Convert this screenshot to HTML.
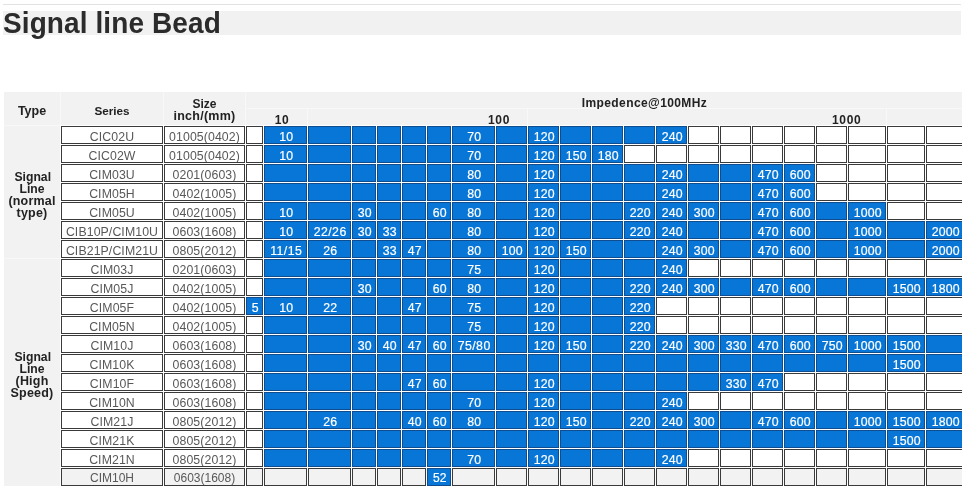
<!DOCTYPE html>
<html><head><meta charset="utf-8"><title>Signal line Bead</title>
<style>
html,body{margin:0;padding:0;background:#fff;}
body{width:967px;height:494px;position:relative;overflow:hidden;font-family:"Liberation Sans",sans-serif;}
.topline{position:absolute;left:3px;top:4px;width:958px;height:1px;background:#e2e2e2;}
.band{position:absolute;left:3px;top:11px;width:958px;height:24px;background:#f1f1f2;}
h1{position:absolute;left:3px;top:8px;margin:0;font-size:28px;line-height:32px;font-weight:bold;color:#2b2b2b;white-space:nowrap;letter-spacing:0.1px;transform:scaleY(1.05);transform-origin:0 25.5px;}
.tbl{position:absolute;left:4px;top:92px;width:958px;height:394px;overflow:hidden;}
.tbl div{position:absolute;box-sizing:border-box;white-space:nowrap;text-align:center;}
.h{background:#f2f2f2;color:#222;font-weight:bold;font-size:11.5px;}
.c{height:18px;border:1px solid #3a3a3a;background:#fff;color:#585858;font-size:12.3px;line-height:21px;letter-spacing:0.1px;overflow:hidden;}
.b{background:#0876d6;border-color:#0f4d8e;color:#fff;-webkit-text-stroke:0.2px #fff;}
.n{padding-left:1.4px;}
.sl{font-size:12.2px;letter-spacing:0;padding-left:1.5px;}
.g{background:#f2f2f3;line-height:19px;font-size:12px;letter-spacing:0;}
.g.b{background:#0876d6;}
</style></head><body>
<div class="topline"></div>
<div class="band"></div>
<h1>Signal line Bead</h1>
<div class="tbl">
<div class="hb" style="left:0px;top:0px;width:958px;height:33px;background:#f8f8f8;"></div>
<div class="hb" style="left:0px;top:0px;width:56px;height:394px;background:#f8f8f8;"></div>
<div class="h" style="left:0px;top:0px;width:56px;height:33px;font-size:12.5px;line-height:38.5px;">Type</div>
<div class="h" style="left:57px;top:0px;width:102px;height:33px;font-size:11.7px;line-height:37px;">Series</div>
<div class="h" style="left:160px;top:0px;width:81px;height:33px;line-height:12px;padding-top:6px;"><span style="font-size:12px">Size</span><br><span style="font-size:12.5px;letter-spacing:0.25px">inch/(mm)</span></div>
<div class="h" style="left:242px;top:0px;width:797px;height:16px;font-size:12px;letter-spacing:0.4px;line-height:22px;">Impedence@100MHz</div>
<div class="h" style="left:242px;top:17px;width:61px;height:16px;font-size:12px;letter-spacing:0.7px;line-height:22px;padding-left:11px;">10</div>
<div class="h" style="left:304px;top:17px;width:219px;height:16px;font-size:12px;letter-spacing:0.7px;line-height:22px;text-align:left;padding-left:180px;">100</div>
<div class="h" style="left:524px;top:17px;width:358px;height:16px;font-size:12px;letter-spacing:0.7px;line-height:22px;text-align:left;padding-left:304px;">1000</div>
<div class="h" style="left:883px;top:17px;width:156px;height:16px;"></div>
<div class="h" style="left:0px;top:34px;width:56px;height:132px;line-height:12px;font-size:12.5px;letter-spacing:0.2px;padding-top:45px;"><span class="sl">Signal<br>Line</span><br>(normal<br>type)</div>
<div class="h" style="left:0px;top:167px;width:56px;height:227px;line-height:12px;font-size:12.5px;letter-spacing:0.2px;padding-top:92px;"><span class="sl">Signal<br>Line</span><br>(High<br>Speed)</div>
<div class="c" style="left:57px;top:34px;width:102px">CIC02U</div><div class="c" style="left:160px;top:34px;width:81px">01005(0402)</div><div class="c n" style="left:242px;top:34px;width:17px"></div><div class="c n b" style="left:260px;top:34px;width:43px">10</div><div class="c n b" style="left:304px;top:34px;width:43px"></div><div class="c n b" style="left:348px;top:34px;width:24px"></div><div class="c n b" style="left:373px;top:34px;width:24px"></div><div class="c n b" style="left:398px;top:34px;width:24px"></div><div class="c n b" style="left:423px;top:34px;width:24px"></div><div class="c n b" style="left:448px;top:34px;width:43px">70</div><div class="c n b" style="left:492px;top:34px;width:31px"></div><div class="c n b" style="left:524px;top:34px;width:31px">120</div><div class="c n b" style="left:556px;top:34px;width:31px"></div><div class="c n b" style="left:588px;top:34px;width:31px"></div><div class="c n b" style="left:620px;top:34px;width:31px"></div><div class="c n b" style="left:652px;top:34px;width:31px">240</div><div class="c n" style="left:684px;top:34px;width:31px"></div><div class="c n" style="left:716px;top:34px;width:31px"></div><div class="c n" style="left:748px;top:34px;width:31px"></div><div class="c n" style="left:780px;top:34px;width:31px"></div><div class="c n" style="left:812px;top:34px;width:31px"></div><div class="c n" style="left:844px;top:34px;width:38px"></div><div class="c n" style="left:883px;top:34px;width:38px"></div><div class="c n" style="left:922px;top:34px;width:38px"></div>
<div class="c" style="left:57px;top:53px;width:102px">CIC02W</div><div class="c" style="left:160px;top:53px;width:81px">01005(0402)</div><div class="c n" style="left:242px;top:53px;width:17px"></div><div class="c n b" style="left:260px;top:53px;width:43px">10</div><div class="c n b" style="left:304px;top:53px;width:43px"></div><div class="c n b" style="left:348px;top:53px;width:24px"></div><div class="c n b" style="left:373px;top:53px;width:24px"></div><div class="c n b" style="left:398px;top:53px;width:24px"></div><div class="c n b" style="left:423px;top:53px;width:24px"></div><div class="c n b" style="left:448px;top:53px;width:43px">70</div><div class="c n b" style="left:492px;top:53px;width:31px"></div><div class="c n b" style="left:524px;top:53px;width:31px">120</div><div class="c n b" style="left:556px;top:53px;width:31px">150</div><div class="c n b" style="left:588px;top:53px;width:31px">180</div><div class="c n" style="left:620px;top:53px;width:31px"></div><div class="c n" style="left:652px;top:53px;width:31px"></div><div class="c n" style="left:684px;top:53px;width:31px"></div><div class="c n" style="left:716px;top:53px;width:31px"></div><div class="c n" style="left:748px;top:53px;width:31px"></div><div class="c n" style="left:780px;top:53px;width:31px"></div><div class="c n" style="left:812px;top:53px;width:31px"></div><div class="c n" style="left:844px;top:53px;width:38px"></div><div class="c n" style="left:883px;top:53px;width:38px"></div><div class="c n" style="left:922px;top:53px;width:38px"></div>
<div class="c" style="left:57px;top:72px;width:102px">CIM03U</div><div class="c" style="left:160px;top:72px;width:81px">0201(0603)</div><div class="c n" style="left:242px;top:72px;width:17px"></div><div class="c n b" style="left:260px;top:72px;width:43px"></div><div class="c n b" style="left:304px;top:72px;width:43px"></div><div class="c n b" style="left:348px;top:72px;width:24px"></div><div class="c n b" style="left:373px;top:72px;width:24px"></div><div class="c n b" style="left:398px;top:72px;width:24px"></div><div class="c n b" style="left:423px;top:72px;width:24px"></div><div class="c n b" style="left:448px;top:72px;width:43px">80</div><div class="c n b" style="left:492px;top:72px;width:31px"></div><div class="c n b" style="left:524px;top:72px;width:31px">120</div><div class="c n b" style="left:556px;top:72px;width:31px"></div><div class="c n b" style="left:588px;top:72px;width:31px"></div><div class="c n b" style="left:620px;top:72px;width:31px"></div><div class="c n b" style="left:652px;top:72px;width:31px">240</div><div class="c n b" style="left:684px;top:72px;width:31px"></div><div class="c n b" style="left:716px;top:72px;width:31px"></div><div class="c n b" style="left:748px;top:72px;width:31px">470</div><div class="c n b" style="left:780px;top:72px;width:31px">600</div><div class="c n" style="left:812px;top:72px;width:31px"></div><div class="c n" style="left:844px;top:72px;width:38px"></div><div class="c n" style="left:883px;top:72px;width:38px"></div><div class="c n" style="left:922px;top:72px;width:38px"></div>
<div class="c" style="left:57px;top:91px;width:102px">CIM05H</div><div class="c" style="left:160px;top:91px;width:81px">0402(1005)</div><div class="c n" style="left:242px;top:91px;width:17px"></div><div class="c n b" style="left:260px;top:91px;width:43px"></div><div class="c n b" style="left:304px;top:91px;width:43px"></div><div class="c n b" style="left:348px;top:91px;width:24px"></div><div class="c n b" style="left:373px;top:91px;width:24px"></div><div class="c n b" style="left:398px;top:91px;width:24px"></div><div class="c n b" style="left:423px;top:91px;width:24px"></div><div class="c n b" style="left:448px;top:91px;width:43px">80</div><div class="c n b" style="left:492px;top:91px;width:31px"></div><div class="c n b" style="left:524px;top:91px;width:31px">120</div><div class="c n b" style="left:556px;top:91px;width:31px"></div><div class="c n b" style="left:588px;top:91px;width:31px"></div><div class="c n b" style="left:620px;top:91px;width:31px"></div><div class="c n b" style="left:652px;top:91px;width:31px">240</div><div class="c n b" style="left:684px;top:91px;width:31px"></div><div class="c n b" style="left:716px;top:91px;width:31px"></div><div class="c n b" style="left:748px;top:91px;width:31px">470</div><div class="c n b" style="left:780px;top:91px;width:31px">600</div><div class="c n" style="left:812px;top:91px;width:31px"></div><div class="c n" style="left:844px;top:91px;width:38px"></div><div class="c n" style="left:883px;top:91px;width:38px"></div><div class="c n" style="left:922px;top:91px;width:38px"></div>
<div class="c" style="left:57px;top:110px;width:102px">CIM05U</div><div class="c" style="left:160px;top:110px;width:81px">0402(1005)</div><div class="c n" style="left:242px;top:110px;width:17px"></div><div class="c n b" style="left:260px;top:110px;width:43px">10</div><div class="c n b" style="left:304px;top:110px;width:43px"></div><div class="c n b" style="left:348px;top:110px;width:24px">30</div><div class="c n b" style="left:373px;top:110px;width:24px"></div><div class="c n b" style="left:398px;top:110px;width:24px"></div><div class="c n b" style="left:423px;top:110px;width:24px">60</div><div class="c n b" style="left:448px;top:110px;width:43px">80</div><div class="c n b" style="left:492px;top:110px;width:31px"></div><div class="c n b" style="left:524px;top:110px;width:31px">120</div><div class="c n b" style="left:556px;top:110px;width:31px"></div><div class="c n b" style="left:588px;top:110px;width:31px"></div><div class="c n b" style="left:620px;top:110px;width:31px">220</div><div class="c n b" style="left:652px;top:110px;width:31px">240</div><div class="c n b" style="left:684px;top:110px;width:31px">300</div><div class="c n b" style="left:716px;top:110px;width:31px"></div><div class="c n b" style="left:748px;top:110px;width:31px">470</div><div class="c n b" style="left:780px;top:110px;width:31px">600</div><div class="c n b" style="left:812px;top:110px;width:31px"></div><div class="c n b" style="left:844px;top:110px;width:38px">1000</div><div class="c n" style="left:883px;top:110px;width:38px"></div><div class="c n" style="left:922px;top:110px;width:38px"></div>
<div class="c" style="left:57px;top:129px;width:102px">CIB10P/CIM10U</div><div class="c" style="left:160px;top:129px;width:81px">0603(1608)</div><div class="c n" style="left:242px;top:129px;width:17px"></div><div class="c n b" style="left:260px;top:129px;width:43px">10</div><div class="c n b" style="left:304px;top:129px;width:43px"><span style="letter-spacing:0.45px">22/26</span></div><div class="c n b" style="left:348px;top:129px;width:24px">30</div><div class="c n b" style="left:373px;top:129px;width:24px">33</div><div class="c n b" style="left:398px;top:129px;width:24px"></div><div class="c n b" style="left:423px;top:129px;width:24px"></div><div class="c n b" style="left:448px;top:129px;width:43px">80</div><div class="c n b" style="left:492px;top:129px;width:31px"></div><div class="c n b" style="left:524px;top:129px;width:31px">120</div><div class="c n b" style="left:556px;top:129px;width:31px"></div><div class="c n b" style="left:588px;top:129px;width:31px"></div><div class="c n b" style="left:620px;top:129px;width:31px">220</div><div class="c n b" style="left:652px;top:129px;width:31px">240</div><div class="c n b" style="left:684px;top:129px;width:31px"></div><div class="c n b" style="left:716px;top:129px;width:31px"></div><div class="c n b" style="left:748px;top:129px;width:31px">470</div><div class="c n b" style="left:780px;top:129px;width:31px">600</div><div class="c n b" style="left:812px;top:129px;width:31px"></div><div class="c n b" style="left:844px;top:129px;width:38px">1000</div><div class="c n b" style="left:883px;top:129px;width:38px"></div><div class="c n b" style="left:922px;top:129px;width:38px">2000</div>
<div class="c" style="left:57px;top:148px;width:102px">CIB21P/CIM21U</div><div class="c" style="left:160px;top:148px;width:81px">0805(2012)</div><div class="c n" style="left:242px;top:148px;width:17px"></div><div class="c n b" style="left:260px;top:148px;width:43px"><span style="letter-spacing:0.45px">11/15</span></div><div class="c n b" style="left:304px;top:148px;width:43px">26</div><div class="c n b" style="left:348px;top:148px;width:24px"></div><div class="c n b" style="left:373px;top:148px;width:24px">33</div><div class="c n b" style="left:398px;top:148px;width:24px">47</div><div class="c n b" style="left:423px;top:148px;width:24px"></div><div class="c n b" style="left:448px;top:148px;width:43px">80</div><div class="c n b" style="left:492px;top:148px;width:31px">100</div><div class="c n b" style="left:524px;top:148px;width:31px">120</div><div class="c n b" style="left:556px;top:148px;width:31px">150</div><div class="c n b" style="left:588px;top:148px;width:31px"></div><div class="c n b" style="left:620px;top:148px;width:31px"></div><div class="c n b" style="left:652px;top:148px;width:31px">240</div><div class="c n b" style="left:684px;top:148px;width:31px">300</div><div class="c n b" style="left:716px;top:148px;width:31px"></div><div class="c n b" style="left:748px;top:148px;width:31px">470</div><div class="c n b" style="left:780px;top:148px;width:31px">600</div><div class="c n b" style="left:812px;top:148px;width:31px"></div><div class="c n b" style="left:844px;top:148px;width:38px">1000</div><div class="c n b" style="left:883px;top:148px;width:38px"></div><div class="c n b" style="left:922px;top:148px;width:38px">2000</div>
<div class="c" style="left:57px;top:167px;width:102px">CIM03J</div><div class="c" style="left:160px;top:167px;width:81px">0201(0603)</div><div class="c n" style="left:242px;top:167px;width:17px"></div><div class="c n b" style="left:260px;top:167px;width:43px"></div><div class="c n b" style="left:304px;top:167px;width:43px"></div><div class="c n b" style="left:348px;top:167px;width:24px"></div><div class="c n b" style="left:373px;top:167px;width:24px"></div><div class="c n b" style="left:398px;top:167px;width:24px"></div><div class="c n b" style="left:423px;top:167px;width:24px"></div><div class="c n b" style="left:448px;top:167px;width:43px">75</div><div class="c n b" style="left:492px;top:167px;width:31px"></div><div class="c n b" style="left:524px;top:167px;width:31px">120</div><div class="c n b" style="left:556px;top:167px;width:31px"></div><div class="c n b" style="left:588px;top:167px;width:31px"></div><div class="c n b" style="left:620px;top:167px;width:31px"></div><div class="c n b" style="left:652px;top:167px;width:31px">240</div><div class="c n" style="left:684px;top:167px;width:31px"></div><div class="c n" style="left:716px;top:167px;width:31px"></div><div class="c n" style="left:748px;top:167px;width:31px"></div><div class="c n" style="left:780px;top:167px;width:31px"></div><div class="c n" style="left:812px;top:167px;width:31px"></div><div class="c n" style="left:844px;top:167px;width:38px"></div><div class="c n" style="left:883px;top:167px;width:38px"></div><div class="c n" style="left:922px;top:167px;width:38px"></div>
<div class="c" style="left:57px;top:186px;width:102px">CIM05J</div><div class="c" style="left:160px;top:186px;width:81px">0402(1005)</div><div class="c n" style="left:242px;top:186px;width:17px"></div><div class="c n b" style="left:260px;top:186px;width:43px"></div><div class="c n b" style="left:304px;top:186px;width:43px"></div><div class="c n b" style="left:348px;top:186px;width:24px">30</div><div class="c n b" style="left:373px;top:186px;width:24px"></div><div class="c n b" style="left:398px;top:186px;width:24px"></div><div class="c n b" style="left:423px;top:186px;width:24px">60</div><div class="c n b" style="left:448px;top:186px;width:43px">80</div><div class="c n b" style="left:492px;top:186px;width:31px"></div><div class="c n b" style="left:524px;top:186px;width:31px">120</div><div class="c n b" style="left:556px;top:186px;width:31px"></div><div class="c n b" style="left:588px;top:186px;width:31px"></div><div class="c n b" style="left:620px;top:186px;width:31px">220</div><div class="c n b" style="left:652px;top:186px;width:31px">240</div><div class="c n b" style="left:684px;top:186px;width:31px">300</div><div class="c n b" style="left:716px;top:186px;width:31px"></div><div class="c n b" style="left:748px;top:186px;width:31px">470</div><div class="c n b" style="left:780px;top:186px;width:31px">600</div><div class="c n b" style="left:812px;top:186px;width:31px"></div><div class="c n b" style="left:844px;top:186px;width:38px"></div><div class="c n b" style="left:883px;top:186px;width:38px">1500</div><div class="c n b" style="left:922px;top:186px;width:38px">1800</div>
<div class="c" style="left:57px;top:205px;width:102px">CIM05F</div><div class="c" style="left:160px;top:205px;width:81px">0402(1005)</div><div class="c n b" style="left:242px;top:205px;width:17px">5</div><div class="c n b" style="left:260px;top:205px;width:43px">10</div><div class="c n b" style="left:304px;top:205px;width:43px">22</div><div class="c n b" style="left:348px;top:205px;width:24px"></div><div class="c n b" style="left:373px;top:205px;width:24px"></div><div class="c n b" style="left:398px;top:205px;width:24px">47</div><div class="c n b" style="left:423px;top:205px;width:24px"></div><div class="c n b" style="left:448px;top:205px;width:43px">75</div><div class="c n b" style="left:492px;top:205px;width:31px"></div><div class="c n b" style="left:524px;top:205px;width:31px">120</div><div class="c n b" style="left:556px;top:205px;width:31px"></div><div class="c n b" style="left:588px;top:205px;width:31px"></div><div class="c n b" style="left:620px;top:205px;width:31px">220</div><div class="c n" style="left:652px;top:205px;width:31px"></div><div class="c n" style="left:684px;top:205px;width:31px"></div><div class="c n" style="left:716px;top:205px;width:31px"></div><div class="c n" style="left:748px;top:205px;width:31px"></div><div class="c n" style="left:780px;top:205px;width:31px"></div><div class="c n" style="left:812px;top:205px;width:31px"></div><div class="c n" style="left:844px;top:205px;width:38px"></div><div class="c n" style="left:883px;top:205px;width:38px"></div><div class="c n" style="left:922px;top:205px;width:38px"></div>
<div class="c" style="left:57px;top:224px;width:102px">CIM05N</div><div class="c" style="left:160px;top:224px;width:81px">0402(1005)</div><div class="c n" style="left:242px;top:224px;width:17px"></div><div class="c n b" style="left:260px;top:224px;width:43px"></div><div class="c n b" style="left:304px;top:224px;width:43px"></div><div class="c n b" style="left:348px;top:224px;width:24px"></div><div class="c n b" style="left:373px;top:224px;width:24px"></div><div class="c n b" style="left:398px;top:224px;width:24px"></div><div class="c n b" style="left:423px;top:224px;width:24px"></div><div class="c n b" style="left:448px;top:224px;width:43px">75</div><div class="c n b" style="left:492px;top:224px;width:31px"></div><div class="c n b" style="left:524px;top:224px;width:31px">120</div><div class="c n b" style="left:556px;top:224px;width:31px"></div><div class="c n b" style="left:588px;top:224px;width:31px"></div><div class="c n b" style="left:620px;top:224px;width:31px">220</div><div class="c n" style="left:652px;top:224px;width:31px"></div><div class="c n" style="left:684px;top:224px;width:31px"></div><div class="c n" style="left:716px;top:224px;width:31px"></div><div class="c n" style="left:748px;top:224px;width:31px"></div><div class="c n" style="left:780px;top:224px;width:31px"></div><div class="c n" style="left:812px;top:224px;width:31px"></div><div class="c n" style="left:844px;top:224px;width:38px"></div><div class="c n" style="left:883px;top:224px;width:38px"></div><div class="c n" style="left:922px;top:224px;width:38px"></div>
<div class="c" style="left:57px;top:243px;width:102px">CIM10J</div><div class="c" style="left:160px;top:243px;width:81px">0603(1608)</div><div class="c n" style="left:242px;top:243px;width:17px"></div><div class="c n b" style="left:260px;top:243px;width:43px"></div><div class="c n b" style="left:304px;top:243px;width:43px"></div><div class="c n b" style="left:348px;top:243px;width:24px">30</div><div class="c n b" style="left:373px;top:243px;width:24px">40</div><div class="c n b" style="left:398px;top:243px;width:24px">47</div><div class="c n b" style="left:423px;top:243px;width:24px">60</div><div class="c n b" style="left:448px;top:243px;width:43px"><span style="letter-spacing:0.45px">75/80</span></div><div class="c n b" style="left:492px;top:243px;width:31px"></div><div class="c n b" style="left:524px;top:243px;width:31px">120</div><div class="c n b" style="left:556px;top:243px;width:31px">150</div><div class="c n b" style="left:588px;top:243px;width:31px"></div><div class="c n b" style="left:620px;top:243px;width:31px">220</div><div class="c n b" style="left:652px;top:243px;width:31px">240</div><div class="c n b" style="left:684px;top:243px;width:31px">300</div><div class="c n b" style="left:716px;top:243px;width:31px">330</div><div class="c n b" style="left:748px;top:243px;width:31px">470</div><div class="c n b" style="left:780px;top:243px;width:31px">600</div><div class="c n b" style="left:812px;top:243px;width:31px">750</div><div class="c n b" style="left:844px;top:243px;width:38px">1000</div><div class="c n b" style="left:883px;top:243px;width:38px">1500</div><div class="c n b" style="left:922px;top:243px;width:38px"></div>
<div class="c" style="left:57px;top:262px;width:102px">CIM10K</div><div class="c" style="left:160px;top:262px;width:81px">0603(1608)</div><div class="c n" style="left:242px;top:262px;width:17px"></div><div class="c n b" style="left:260px;top:262px;width:43px"></div><div class="c n b" style="left:304px;top:262px;width:43px"></div><div class="c n b" style="left:348px;top:262px;width:24px"></div><div class="c n b" style="left:373px;top:262px;width:24px"></div><div class="c n b" style="left:398px;top:262px;width:24px"></div><div class="c n b" style="left:423px;top:262px;width:24px"></div><div class="c n b" style="left:448px;top:262px;width:43px"></div><div class="c n b" style="left:492px;top:262px;width:31px"></div><div class="c n b" style="left:524px;top:262px;width:31px"></div><div class="c n b" style="left:556px;top:262px;width:31px"></div><div class="c n b" style="left:588px;top:262px;width:31px"></div><div class="c n b" style="left:620px;top:262px;width:31px"></div><div class="c n b" style="left:652px;top:262px;width:31px"></div><div class="c n b" style="left:684px;top:262px;width:31px"></div><div class="c n b" style="left:716px;top:262px;width:31px"></div><div class="c n b" style="left:748px;top:262px;width:31px"></div><div class="c n b" style="left:780px;top:262px;width:31px"></div><div class="c n b" style="left:812px;top:262px;width:31px"></div><div class="c n b" style="left:844px;top:262px;width:38px"></div><div class="c n b" style="left:883px;top:262px;width:38px">1500</div><div class="c n b" style="left:922px;top:262px;width:38px"></div>
<div class="c" style="left:57px;top:281px;width:102px">CIM10F</div><div class="c" style="left:160px;top:281px;width:81px">0603(1608)</div><div class="c n" style="left:242px;top:281px;width:17px"></div><div class="c n b" style="left:260px;top:281px;width:43px"></div><div class="c n b" style="left:304px;top:281px;width:43px"></div><div class="c n b" style="left:348px;top:281px;width:24px"></div><div class="c n b" style="left:373px;top:281px;width:24px"></div><div class="c n b" style="left:398px;top:281px;width:24px">47</div><div class="c n b" style="left:423px;top:281px;width:24px">60</div><div class="c n b" style="left:448px;top:281px;width:43px"></div><div class="c n b" style="left:492px;top:281px;width:31px"></div><div class="c n b" style="left:524px;top:281px;width:31px">120</div><div class="c n b" style="left:556px;top:281px;width:31px"></div><div class="c n b" style="left:588px;top:281px;width:31px"></div><div class="c n b" style="left:620px;top:281px;width:31px"></div><div class="c n b" style="left:652px;top:281px;width:31px"></div><div class="c n b" style="left:684px;top:281px;width:31px"></div><div class="c n b" style="left:716px;top:281px;width:31px">330</div><div class="c n b" style="left:748px;top:281px;width:31px">470</div><div class="c n" style="left:780px;top:281px;width:31px"></div><div class="c n" style="left:812px;top:281px;width:31px"></div><div class="c n" style="left:844px;top:281px;width:38px"></div><div class="c n" style="left:883px;top:281px;width:38px"></div><div class="c n" style="left:922px;top:281px;width:38px"></div>
<div class="c" style="left:57px;top:300px;width:102px">CIM10N</div><div class="c" style="left:160px;top:300px;width:81px">0603(1608)</div><div class="c n" style="left:242px;top:300px;width:17px"></div><div class="c n b" style="left:260px;top:300px;width:43px"></div><div class="c n b" style="left:304px;top:300px;width:43px"></div><div class="c n b" style="left:348px;top:300px;width:24px"></div><div class="c n b" style="left:373px;top:300px;width:24px"></div><div class="c n b" style="left:398px;top:300px;width:24px"></div><div class="c n b" style="left:423px;top:300px;width:24px"></div><div class="c n b" style="left:448px;top:300px;width:43px">70</div><div class="c n b" style="left:492px;top:300px;width:31px"></div><div class="c n b" style="left:524px;top:300px;width:31px">120</div><div class="c n b" style="left:556px;top:300px;width:31px"></div><div class="c n b" style="left:588px;top:300px;width:31px"></div><div class="c n b" style="left:620px;top:300px;width:31px"></div><div class="c n b" style="left:652px;top:300px;width:31px">240</div><div class="c n" style="left:684px;top:300px;width:31px"></div><div class="c n" style="left:716px;top:300px;width:31px"></div><div class="c n" style="left:748px;top:300px;width:31px"></div><div class="c n" style="left:780px;top:300px;width:31px"></div><div class="c n" style="left:812px;top:300px;width:31px"></div><div class="c n" style="left:844px;top:300px;width:38px"></div><div class="c n" style="left:883px;top:300px;width:38px"></div><div class="c n" style="left:922px;top:300px;width:38px"></div>
<div class="c" style="left:57px;top:319px;width:102px">CIM21J</div><div class="c" style="left:160px;top:319px;width:81px">0805(2012)</div><div class="c n" style="left:242px;top:319px;width:17px"></div><div class="c n b" style="left:260px;top:319px;width:43px"></div><div class="c n b" style="left:304px;top:319px;width:43px">26</div><div class="c n b" style="left:348px;top:319px;width:24px"></div><div class="c n b" style="left:373px;top:319px;width:24px"></div><div class="c n b" style="left:398px;top:319px;width:24px">40</div><div class="c n b" style="left:423px;top:319px;width:24px">60</div><div class="c n b" style="left:448px;top:319px;width:43px">80</div><div class="c n b" style="left:492px;top:319px;width:31px"></div><div class="c n b" style="left:524px;top:319px;width:31px">120</div><div class="c n b" style="left:556px;top:319px;width:31px">150</div><div class="c n b" style="left:588px;top:319px;width:31px"></div><div class="c n b" style="left:620px;top:319px;width:31px">220</div><div class="c n b" style="left:652px;top:319px;width:31px">240</div><div class="c n b" style="left:684px;top:319px;width:31px">300</div><div class="c n b" style="left:716px;top:319px;width:31px"></div><div class="c n b" style="left:748px;top:319px;width:31px">470</div><div class="c n b" style="left:780px;top:319px;width:31px">600</div><div class="c n b" style="left:812px;top:319px;width:31px"></div><div class="c n b" style="left:844px;top:319px;width:38px">1000</div><div class="c n b" style="left:883px;top:319px;width:38px">1500</div><div class="c n b" style="left:922px;top:319px;width:38px">1800</div>
<div class="c" style="left:57px;top:338px;width:102px">CIM21K</div><div class="c" style="left:160px;top:338px;width:81px">0805(2012)</div><div class="c n" style="left:242px;top:338px;width:17px"></div><div class="c n b" style="left:260px;top:338px;width:43px"></div><div class="c n b" style="left:304px;top:338px;width:43px"></div><div class="c n b" style="left:348px;top:338px;width:24px"></div><div class="c n b" style="left:373px;top:338px;width:24px"></div><div class="c n b" style="left:398px;top:338px;width:24px"></div><div class="c n b" style="left:423px;top:338px;width:24px"></div><div class="c n b" style="left:448px;top:338px;width:43px"></div><div class="c n b" style="left:492px;top:338px;width:31px"></div><div class="c n b" style="left:524px;top:338px;width:31px"></div><div class="c n b" style="left:556px;top:338px;width:31px"></div><div class="c n b" style="left:588px;top:338px;width:31px"></div><div class="c n b" style="left:620px;top:338px;width:31px"></div><div class="c n b" style="left:652px;top:338px;width:31px"></div><div class="c n b" style="left:684px;top:338px;width:31px"></div><div class="c n b" style="left:716px;top:338px;width:31px"></div><div class="c n b" style="left:748px;top:338px;width:31px"></div><div class="c n b" style="left:780px;top:338px;width:31px"></div><div class="c n b" style="left:812px;top:338px;width:31px"></div><div class="c n b" style="left:844px;top:338px;width:38px"></div><div class="c n b" style="left:883px;top:338px;width:38px">1500</div><div class="c n b" style="left:922px;top:338px;width:38px"></div>
<div class="c" style="left:57px;top:357px;width:102px">CIM21N</div><div class="c" style="left:160px;top:357px;width:81px">0805(2012)</div><div class="c n" style="left:242px;top:357px;width:17px"></div><div class="c n b" style="left:260px;top:357px;width:43px"></div><div class="c n b" style="left:304px;top:357px;width:43px"></div><div class="c n b" style="left:348px;top:357px;width:24px"></div><div class="c n b" style="left:373px;top:357px;width:24px"></div><div class="c n b" style="left:398px;top:357px;width:24px"></div><div class="c n b" style="left:423px;top:357px;width:24px"></div><div class="c n b" style="left:448px;top:357px;width:43px">70</div><div class="c n b" style="left:492px;top:357px;width:31px"></div><div class="c n b" style="left:524px;top:357px;width:31px">120</div><div class="c n b" style="left:556px;top:357px;width:31px"></div><div class="c n b" style="left:588px;top:357px;width:31px"></div><div class="c n b" style="left:620px;top:357px;width:31px"></div><div class="c n b" style="left:652px;top:357px;width:31px">240</div><div class="c n" style="left:684px;top:357px;width:31px"></div><div class="c n" style="left:716px;top:357px;width:31px"></div><div class="c n" style="left:748px;top:357px;width:31px"></div><div class="c n" style="left:780px;top:357px;width:31px"></div><div class="c n" style="left:812px;top:357px;width:31px"></div><div class="c n" style="left:844px;top:357px;width:38px"></div><div class="c n" style="left:883px;top:357px;width:38px"></div><div class="c n" style="left:922px;top:357px;width:38px"></div>
<div class="c g" style="left:57px;top:376px;width:102px">CIM10H</div><div class="c g" style="left:160px;top:376px;width:81px">0603(1608)</div><div class="c n g" style="left:242px;top:376px;width:17px"></div><div class="c n g" style="left:260px;top:376px;width:43px"></div><div class="c n g" style="left:304px;top:376px;width:43px"></div><div class="c n g" style="left:348px;top:376px;width:24px"></div><div class="c n g" style="left:373px;top:376px;width:24px"></div><div class="c n g" style="left:398px;top:376px;width:24px"></div><div class="c n g b" style="left:423px;top:376px;width:24px">52</div><div class="c n g" style="left:448px;top:376px;width:43px"></div><div class="c n g" style="left:492px;top:376px;width:31px"></div><div class="c n g" style="left:524px;top:376px;width:31px"></div><div class="c n g" style="left:556px;top:376px;width:31px"></div><div class="c n g" style="left:588px;top:376px;width:31px"></div><div class="c n g" style="left:620px;top:376px;width:31px"></div><div class="c n g" style="left:652px;top:376px;width:31px"></div><div class="c n g" style="left:684px;top:376px;width:31px"></div><div class="c n g" style="left:716px;top:376px;width:31px"></div><div class="c n g" style="left:748px;top:376px;width:31px"></div><div class="c n g" style="left:780px;top:376px;width:31px"></div><div class="c n g" style="left:812px;top:376px;width:31px"></div><div class="c n g" style="left:844px;top:376px;width:38px"></div><div class="c n g" style="left:883px;top:376px;width:38px"></div><div class="c n g" style="left:922px;top:376px;width:38px"></div>
</div>
</body></html>
